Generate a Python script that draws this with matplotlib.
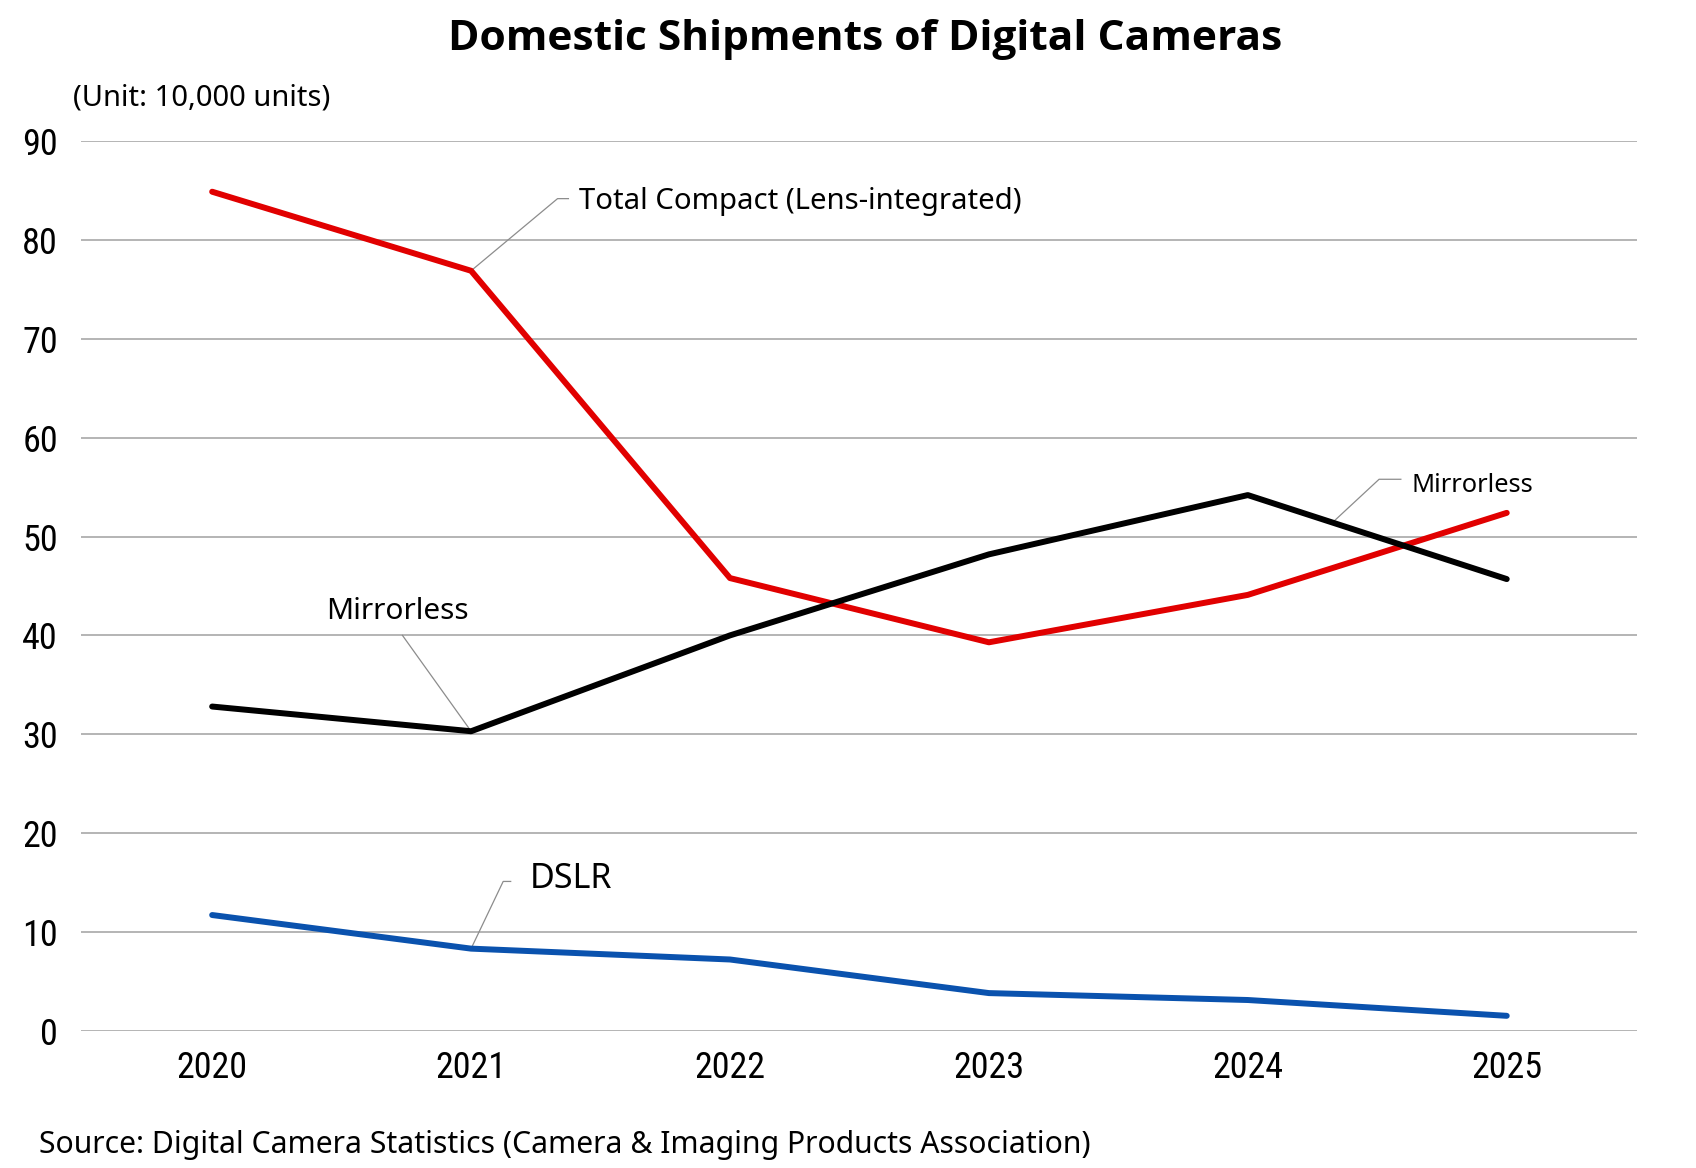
import matplotlib
matplotlib.use("Agg")
import matplotlib.pyplot as plt
from matplotlib import font_manager

years = ["2020", "2021", "2022", "2023", "2024", "2025"]
compact = [84.9, 76.9, 45.8, 39.3, 44.1, 52.4]
mirrorless = [32.8, 30.3, 40.0, 48.2, 54.2, 45.7]
dslr = [11.7, 8.3, 7.2, 3.8, 3.1, 1.5]
yticks = [0, 10, 20, 30, 40, 50, 60, 70, 80, 90]

title = "Domestic Shipments of Digital Cameras"
unit_label = "(Unit: 10,000 units)"
source = "Source: Digital Camera Statistics (Camera & Imaging Products Association)"

fl = font_manager.fontManager.ttflist
installed = {f.name for f in fl}
def pick(cands):
    for c in cands:
        if c in installed:
            return c
    return "DejaVu Sans"
def pick_bold(cands):
    for c in cands:
        for f in fl:
            if f.name == c and (f.weight == 'bold' or (isinstance(f.weight, int) and f.weight >= 700)):
                return c
    return "DejaVu Sans"

narrow = pick(["Roboto Condensed", "Liberation Sans Narrow", "Noto Sans", "Open Sans"])
body = pick(["Noto Sans", "Open Sans", "Lato"])
bold = pick_bold(["Noto Sans", "Open Sans", "Lato", "Roboto", "Inter", "Liberation Sans"])
plt.rcParams['font.family'] = [body, 'DejaVu Sans']

RED = "#e10000"
BLACK = "#000000"
BLUE = "#0a52ae"
GRID = "#b4b4b4"
LEAD = "#8c8c8c"

fig = plt.figure(figsize=(16.96, 11.68), dpi=100)
ax = fig.add_axes([0.048, 0.1176, 0.9175, 0.7614])

x = list(range(len(years)))
for series, col in ((compact, RED), (mirrorless, BLACK), (dslr, BLUE)):
    ax.plot(x, series, color=col, lw=4.3, solid_joinstyle='round',
            solid_capstyle='round', zorder=3, clip_on=False)

ax.set_xlim(-0.505, 5.505)
ax.set_ylim(0, 90)
ax.set_yticks(yticks)
ax.set_xticks(x)
ax.set_xticklabels(years)
ax.grid(axis='y', color=GRID, lw=1.4, zorder=0)
ax.set_axisbelow(True)
for s in ax.spines.values():
    s.set_visible(False)
ax.tick_params(axis='both', length=0, labelsize=26)
ax.tick_params(axis='y', pad=17)
ax.tick_params(axis='x', pad=14)
for lab in ax.get_xticklabels() + ax.get_yticklabels():
    lab.set_family([narrow, 'DejaVu Sans'])

# Total Compact label with leader
ax.plot([1, 1.334, 1.376], [compact[1], 84.2, 84.2], color=LEAD, lw=0.9, zorder=2)
ax.text(1.418, 83.9, "Total Compact (Lens-integrated)", fontsize=21.1, va='center', ha='left')

# Mirrorless left label
ax.plot([0.735, 1], [40.0, mirrorless[1]], color=LEAD, lw=0.9, zorder=2)
ax.text(0.714, 42.4, "Mirrorless", fontsize=21.5, va='center', ha='center')

# Mirrorless right label
xr = 4.327
yr = mirrorless[4] + (mirrorless[5] - mirrorless[4]) * (xr - 4)
ax.plot([xr, 4.507, 4.591], [yr, 55.8, 55.8], color=LEAD, lw=0.9, zorder=2)
ax.text(4.632, 55.2, "Mirrorless", fontsize=18.3, va='center', ha='left')

# DSLR label
ax.plot([1, 1.124, 1.153], [dslr[1], 15.1, 15.1], color=LEAD, lw=0.9, zorder=2)
ax.text(1.228, 15.3, "DSLR", fontsize=24.5, va='center', ha='left')

fig.text(0.510, 0.966, title, fontsize=30.6, fontweight='bold', family=[bold, 'DejaVu Sans'],
         ha='center', va='center')
fig.text(0.043, 0.916, unit_label, fontsize=21, ha='left', va='center')
fig.text(0.023, 0.020, source, fontsize=21.7, ha='left', va='center')

fig.savefig("out.png", dpi=100, facecolor='white')
